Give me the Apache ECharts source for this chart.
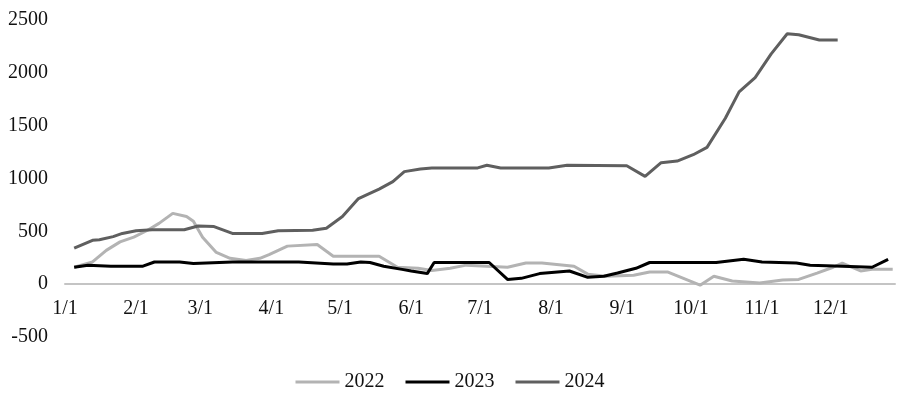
<!DOCTYPE html>
<html>
<head>
<meta charset="utf-8">
<script src="https://cdn.jsdelivr.net/npm/echarts@6/dist/echarts.min.js"></script>
<style>html,body{margin:0;padding:0;background:#fff}#c{width:900px;height:394px}</style>
</head>
<body>
<div id="c"></div>
<script>
// Day-of-year positions of month starts and their tick labels
const monthStarts = [0, 31, 59, 90, 120, 151, 181, 212, 243, 273, 304, 334];
const monthLabels = ['1/1','2/1','3/1','4/1','5/1','6/1','7/1','8/1','9/1','10/1','11/1','12/1'];
const seriesNames = ['2022', '2023', '2024'];

// 2022
const days2022 = [4,12,18,24,30,36,41,47,53,56,60,66,72,79,85,89,97,110,117,137,145,154,160,168,175,193,201,208,222,228,236,248,255,263,277,283,291,303,313,320,328,335,339,347,352,361];
const vals2022 = [160,210,320,400,445,510,575,670,640,595,445,300,245,225,245,280,360,375,265,265,160,150,130,150,180,160,200,200,170,95,75,85,115,115,-10,75,30,10,40,45,105,160,200,125,140,140];

// 2023
const days2023 = [4,10,20,34,39,50,56,73,102,117,123,129,133,139,147,151,158,161,185,193,199,207,220,228,235,241,249,255,284,296,304,319,325,339,352,359];
const vals2023 = [160,180,170,170,210,210,195,210,210,190,190,210,205,170,140,125,100,205,205,45,55,100,125,65,75,105,150,205,205,235,210,200,180,170,160,235];

// 2024
const days2024 = [4,12,15,21,25,31,38,52,58,65,73,86,93,108,114,121,128,132,137,143,148,155,160,180,184,190,211,219,245,253,260,267,274,280,288,294,301,308,315,320,329,337];
const vals2024 = [340,415,420,450,480,505,515,515,550,545,480,480,505,510,530,640,810,850,900,970,1065,1090,1100,1100,1125,1100,1100,1125,1120,1020,1150,1165,1225,1295,1570,1820,1955,2180,2370,2360,2310,2310];

const colors = ['#b3b3b3', '#000000', '#5f5f5f'];
const pairs = (d, v) => d.map((x, i) => [x, v[i]]);
const allData = [pairs(days2022, vals2022), pairs(days2023, vals2023), pairs(days2024, vals2024)];

const yMin = -500, yMax = 2500;
const gridTop = 20, gridBottom = 57, H = 394;
const plotH = H - gridTop - gridBottom;
// move the x axis up from the grid bottom to the zero line
const zeroOffset = -plotH * (0 - yMin) / (yMax - yMin);

const font = '"Liberation Serif", "DejaVu Serif", serif';
const chart = echarts.init(document.getElementById('c'), null, {renderer: 'canvas'});
chart.setOption({
  animation: false,
  backgroundColor: '#fff',
  grid: {left: 65, right: 5, top: gridTop, bottom: gridBottom, containLabel: false},
  legend: {
    data: seriesNames,
    top: 367,
    left: 'center',
    itemWidth: 44,
    itemHeight: 3,
    itemGap: 21,
    icon: 'rect',
    textStyle: {fontFamily: font, fontSize: 20, color: '#111'}
  },
  xAxis: {
    type: 'value',
    min: 0,
    max: 362,
    offset: zeroOffset,
    splitLine: {show: false},
    axisTick: {show: false},
    axisLine: {show: true, onZero: false, lineStyle: {color: '#c4c4c4', width: 2}},
    axisLabel: {
      customValues: monthStarts,
      formatter: (v) => monthLabels[monthStarts.indexOf(v)] || '',
      fontFamily: font, fontSize: 20, color: '#111', margin: 15
    }
  },
  yAxis: {
    type: 'value',
    min: yMin,
    max: yMax,
    interval: 500,
    splitLine: {show: false},
    axisLine: {show: false},
    axisTick: {show: false},
    axisLabel: {fontFamily: font, fontSize: 20, color: '#111', margin: 17, formatter: (v) => String(v)}
  },
  series: seriesNames.map((name, i) => ({
    name: name,
    type: 'line',
    data: allData[i],
    showSymbol: false,
    symbol: 'none',
    color: colors[i],
    lineStyle: {width: 3, color: colors[i]},
    z: i === 2 ? 4 : (i === 1 ? 3 : 2)
  }))
});
</script>
</body>
</html>
